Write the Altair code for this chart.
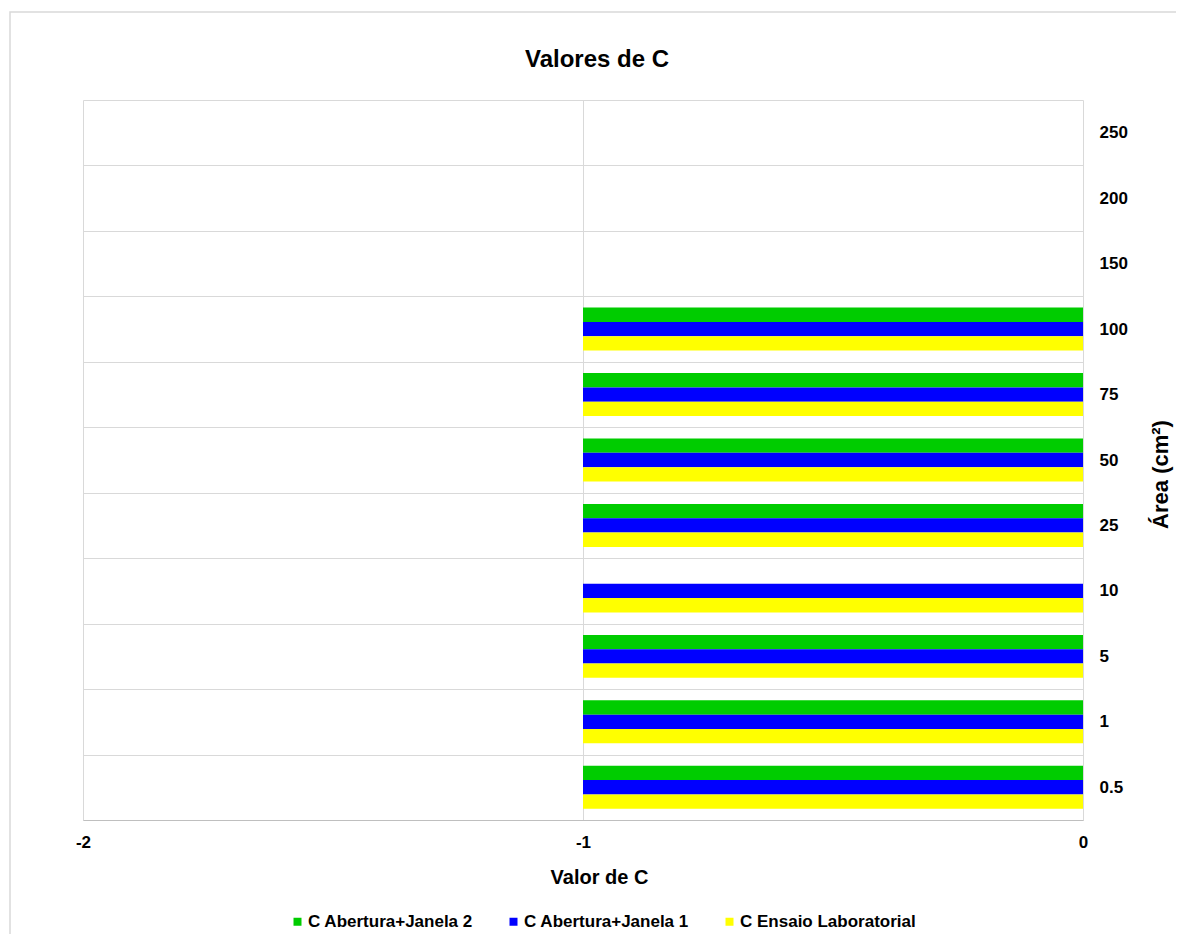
import altair as alt
import pandas as pd

# Categories (top to bottom as drawn)
areas = ["250", "200", "150", "100", "75", "50", "25", "10", "5", "1", "0.5"]
series = ["C Abertura+Janela 2", "C Abertura+Janela 1", "C Ensaio Laboratorial"]
colors = ["#00CC00", "#0000FF", "#FFFF00"]

# Areas that have data (bottom to top)
area_rows = ["0.5", "1", "5", "10", "25", "50", "75", "100"]
c_janela2 = [-1, -1, -1, None, -1, -1, -1, -1]
c_janela1 = [-1, -1, -1, -1, -1, -1, -1, -1]
c_ensaio = [-1, -1, -1, -1, -1, -1, -1, -1]

chart_title = "Valores de C"

rows = []
for name, vals in zip(series, [c_janela2, c_janela1, c_ensaio]):
    for a, v in zip(area_rows, vals):
        if v is not None:
            rows.append({"area": a, "serie": name, "valor": v})
df = pd.DataFrame(rows)

FONT = "Liberation Sans, Arial, Helvetica, sans-serif"

bars = alt.Chart(df).mark_bar().encode(
    x=alt.X(
        "valor:Q",
        scale=alt.Scale(domain=[-2, 0], nice=False, zero=False),
        axis=alt.Axis(
            values=[-2, -1, 0],
            labelExpr="'' + datum.value",
            title="Valor de C",
            titleFontSize=20,
            titleFont=FONT,
            titleFontWeight="bold",
            titlePadding=17,
            titleX=516,
            titleAlign="center",
            labelFontSize=17,
            labelFont=FONT,
            labelFontWeight="bold",
            labelPadding=14,
            labelColor="#000000",
            titleColor="#000000",
            ticks=False,
            domainColor="#bfbfbf",
            gridColor="#d9d9d9",
            labelFlush=False,
        ),
    ),
    y=alt.Y(
        "area:N",
        sort=areas,
        scale=alt.Scale(domain=areas, paddingInner=0, paddingOuter=0),
        axis=alt.Axis(
            orient="right",
            title="Área (cm²)",
            titleFontSize=22,
            titleFont=FONT,
            titleFontWeight="bold",
            titleAngle=270,
            titleAlign="center",
            titleBaseline="middle",
            titleX=77,
            titleY=374,
            labelFontSize=17,
            labelFont=FONT,
            labelFontWeight="bold",
            labelPadding=16,
            labelAlign="left",
            labelColor="#000000",
            titleColor="#000000",
            ticks=False,
            domain=False,
            grid=True,
            tickBand="extent",
            gridColor="#d9d9d9",
        ),
    ),
    yOffset=alt.YOffset(
        "serie:N",
        sort=series,
        scale=alt.Scale(domain=series, paddingInner=0, paddingOuter=0.785),
    ),
    color=alt.Color(
        "serie:N",
        scale=alt.Scale(domain=series, range=colors),
        legend=alt.Legend(
            orient="none",
            legendX=206,
            legendY=813,
            direction="horizontal",
            title=None,
            labelFontSize=17,
            labelFont=FONT,
            labelFontWeight="bold",
            labelColor="#000000",
            symbolType="square",
            symbolSize=64,
            symbolStrokeWidth=0,
            labelOffset=2,
            columnPadding=32,
            labelLimit=0,
        ),
    ),
)

frame = alt.Chart(pd.DataFrame({"k": [0]})).mark_rect(
    fill="transparent", stroke="#d9d9d9", strokeWidth=1.5, clip=False
).encode(
    x=alt.value(-73), x2=alt.value(1400), y=alt.value(-88), y2=alt.value(1200)
)

title_text = alt.Chart(pd.DataFrame({"t": [chart_title]})).mark_text(
    font=FONT,
    fontSize=24,
    fontWeight="bold",
    color="#000000",
    align="center",
    baseline="alphabetic",
    clip=False,
).encode(text="t:N", x=alt.value(514), y=alt.value(-33))

chart = alt.layer(frame, bars, title_text).properties(
    width=1000,
    height=720,
    autosize=alt.AutoSizeParams(type="none"),
    padding={"left": 75, "top": 92, "right": 93, "bottom": 114},
).configure_view(strokeWidth=0)

chart.save("out.html", embed_options={"renderer": "svg", "actions": False})
